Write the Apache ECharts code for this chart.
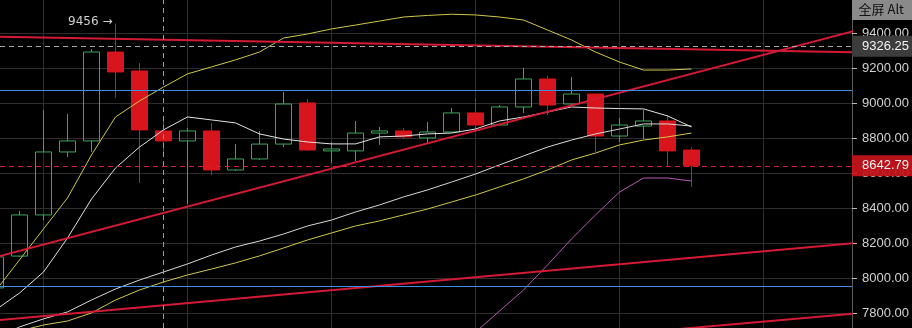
<!DOCTYPE html>
<html><head><meta charset="utf-8">
<script src="https://cdn.jsdelivr.net/npm/echarts@6/dist/echarts.min.js"></script>
<style>html,body{margin:0;padding:0;background:#000;overflow:hidden}#c{width:912px;height:328px}</style>
</head><body><div id="c"></div>
<script>
// candle slot numbers (x values)
const candleX = [4,5,6,7,8,9,10,11,12,13,14,15,16,17,18,19,20,21,22,23,24,25,26,27,28,29,30,31,32,33];
// [open, close, low, high]
const candles = [
  [7945, 8122, 7940, 8125],
  [8127, 8362, 8122, 8385],
  [8362, 8722, 8333, 8962],
  [8722, 8785, 8693, 8939],
  [8785, 9293, 8722, 9310],
  [9293, 9179, 9030, 9456],
  [9185, 8848, 8545, 9230],
  [8842, 8785, 8705, 8922],
  [8785, 8842, 8425, 8859],
  [8842, 8619, 8590, 8888],
  [8619, 8682, 8613, 8767],
  [8682, 8767, 8676, 8842],
  [8767, 8996, 8750, 9065],
  [9002, 8733, 8728, 9025],
  [8728, 8739, 8660, 8779],
  [8728, 8830, 8670, 8899],
  [8830, 8842, 8762, 8865],
  [8842, 8808, 8796, 8859],
  [8802, 8836, 8773, 8893],
  [8836, 8945, 8836, 8973],
  [8945, 8876, 8842, 9025],
  [8876, 8979, 8876, 8990],
  [8979, 9139, 8945, 9202],
  [9139, 8990, 8933, 9156],
  [8996, 9053, 8985, 9150],
  [9053, 8813, 8722, 9053],
  [8813, 8876, 8779, 8916],
  [8870, 8899, 8796, 8962],
  [8899, 8728, 8636, 8933],
  [8733, 8642.79, 8522, 8750]
];
const bollUpper = [7928,8105,8282,8459,8705,8922,9013,9093,9168,9208,9248,9293,9373,9396,9425,9447,9470,9493,9502,9509,9505,9493,9476,9419,9362,9293,9236,9190,9190,9196];
const bollMid   = [7659,7722,7768,7808,7876,7939,7990,8036,8082,8133,8179,8213,8253,8299,8333,8379,8419,8465,8505,8550,8596,8648,8699,8750,8790,8825,8853,8882,8882,8870];
const bollLower = [null,null,null,null,null,null,null,null,null,null,null,null,null,null,null,7590,7693,7813,7933,8076,8225,8362,8493,8573,8573,8556];
const maFast    = [7819,7916,8036,8230,8453,8630,8750,8848,8922,8905,8888,8825,8796,8779,8768,8768,8808,8813,8825,8830,8853,8899,8922,8950,8979,8973,8970,8968,8928,8865];
const maSlow    = [7648,7699,7733,7756,7802,7876,7933,7979,8019,8053,8088,8128,8173,8219,8259,8299,8328,8362,8396,8436,8476,8522,8568,8619,8676,8716,8762,8790,8808,8830];
// trend lines: two anchor points [x, price]
const trendTop    = [[4, 9381], [40, 9291]];
const trendSteep  = [[4, 8121], [40, 9422]];
const channelUp   = [[4, 7760], [40, 8204]];
const channelLow  = [[4, 7370], [40, 7800]];
const blueLevels  = [9076, 7955];
const crossX = 11, crossPrice = 9326.25;
const lastPrice = 8642.79;
const highMarkX = 9, highMarkValue = 9456;
const yMin = 7716, yMax = 9590.3, yStep = 200;
const xMin = 4.1875, xMax = 39.6875, xStep = 6;

const pad = arr => arr.length < candleX.length ? Array(candleX.length - arr.length).fill(null).concat(arr) : arr;
const toPairs = arr => pad(arr).map((v, k) => [candleX[k], v]);

const chart = echarts.init(document.getElementById('c'), null, {renderer: 'canvas'});
const lineS = (data, color, z, width) => ({
  type: 'line', data, showSymbol: false, symbol: 'none', z: z || 5, silent: true,
  lineStyle: {color, width: width || 1}, connectNulls: false
});
const priceLabel = (text, bg) => ({
  show: true, position: 'end', distance: 0, formatter: text,
  backgroundColor: bg, color: '#f2f2f2', fontSize: 13, fontFamily: 'Liberation Sans, Arial, sans-serif',
  padding: [3, 12, 3, 10], lineHeight: 15
});

chart.setOption({
  backgroundColor: '#000',
  animation: false,
  grid: {left: 0, right: 60, top: 0, bottom: 0},
  xAxis: {
    type: 'value', min: xMin, max: xMax, minInterval: xStep, maxInterval: xStep,
    axisLine: {show: false}, axisTick: {show: false}, axisLabel: {show: false},
    splitLine: {show: true, showMinLine: false, showMaxLine: false, lineStyle: {color: '#2e2e2e', width: 1}}
  },
  yAxis: {
    type: 'value', position: 'right', min: yMin, max: yMax, minInterval: yStep, maxInterval: yStep,
    axisLine: {show: true, lineStyle: {color: '#5a5a5a'}},
    axisTick: {show: true, length: 5, lineStyle: {color: '#bbbbbb'}},
    axisLabel: {
      color: '#d2d2d2', fontSize: 13, margin: 10, fontFamily: 'Liberation Sans, Arial, sans-serif',
      showMinLabel: false, showMaxLabel: false,
      formatter: v => v.toFixed(2)
    },
    splitLine: {show: true, showMinLine: false, showMaxLine: false, lineStyle: {color: '#2e2e2e', width: 1}}
  },
  series: [
    {
      type: 'candlestick', z: 3,
      data: candles.map((c, k) => [candleX[k]].concat(c)),
      barWidth: 16,
      itemStyle: {
        color: 'rgba(0,0,0,0)', color0: '#d8141c',
        borderColor: '#3fa55c', borderColor0: '#d8141c', borderWidth: 1
      },
      markPoint: {
        symbol: 'circle', symbolSize: 0, silent: true,
        data: [{coord: [highMarkX, highMarkValue]}],
        label: {show: true, position: 'left', distance: 3, offset: [0, -2], formatter: highMarkValue + ' →',
          color: '#d0d0d0', fontSize: 12, fontFamily: 'DejaVu Sans, sans-serif'}
      }
    },
    lineS(toPairs(bollUpper), '#cfc84a', 6),
    lineS(toPairs(maSlow), '#cfc84a', 6),
    lineS(toPairs(bollMid), '#d8d8d8', 6),
    lineS(toPairs(maFast), '#e2e2e2', 6),
    lineS(toPairs(bollLower), '#b65cb4', 6),
    lineS(trendTop, '#d41a35', 7, 2),
    lineS(trendSteep, '#d41a35', 7, 2),
    lineS(channelUp, '#d41a35', 7, 2),
    Object.assign(lineS(channelLow, '#d41a35', 7, 2), {
      markLine: {
        silent: true, symbol: ['none', 'none'], z: 8,
        label: {show: false},
        data: [
          {yAxis: blueLevels[0], lineStyle: {color: '#3a8ee6', width: 1, type: 'solid'}},
          {yAxis: blueLevels[1], lineStyle: {color: '#3a8ee6', width: 1, type: 'solid'}},
          {xAxis: crossX, lineStyle: {color: '#9a9a9a', width: 1, type: [5, 4]}},
          {yAxis: crossPrice, lineStyle: {color: '#a8a8a8', width: 1, type: [5, 4]},
            label: priceLabel(crossPrice.toFixed(2), '#3c3c3c')},
          {yAxis: lastPrice, lineStyle: {color: '#d42030', width: 1, type: [5, 4]},
            label: priceLabel(lastPrice.toFixed(2), 'rgba(196,20,28,0.94)')}
        ]
      }
    })
  ],
  graphic: [
    {type: 'rect', right: 0, top: 0, z: 100, shape: {width: 60, height: 20}, style: {fill: '#8a8a8a'}},
    {type: 'text', right: 8, top: 3, z: 101, style: {text: '全屏 Alt', fill: '#111', font: '13px "Noto Sans CJK SC", sans-serif'}}
  ]
});
</script></body></html>
